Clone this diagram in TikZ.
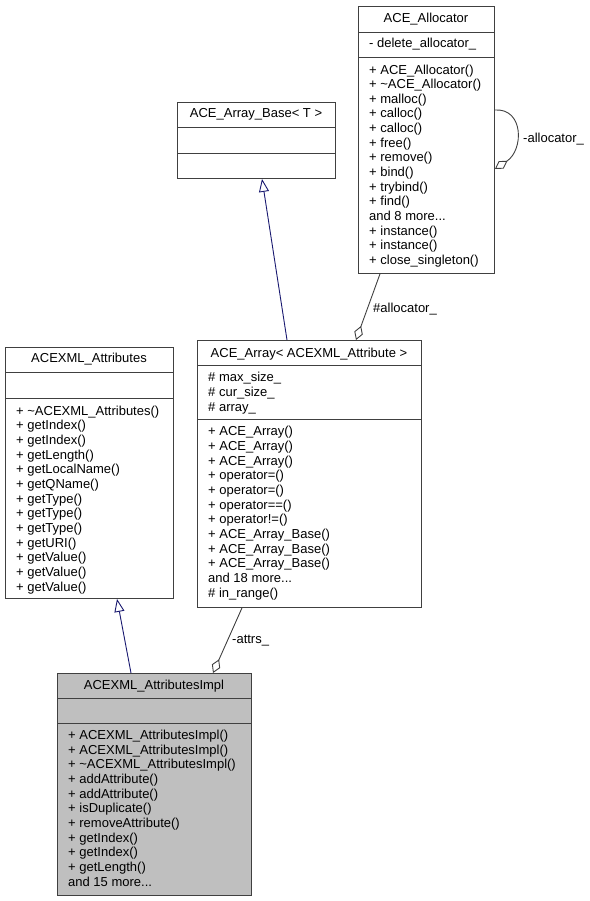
\documentclass[tikz,border=0pt]{standalone}
\usepackage{fontspec}
\setmainfont{Liberation Sans}
\usetikzlibrary{arrows.meta}
\definecolor{edgegray}{HTML}{404040}
\definecolor{isablue}{HTML}{191970}
\definecolor{implgray}{HTML}{BFBFBF}
\tikzset{
  classbox/.style={draw=edgegray, line width=0.9pt, anchor=north west, inner sep=0pt},
  divider/.style={draw=edgegray, line width=0.9pt},
  classname/.style={anchor=base, inner sep=0pt, font=\fontsize{13}{14.65}\selectfont},
  members/.style={anchor=base west, align=left, inner sep=0pt, font=\fontsize{13}{14.65}\selectfont},
  role/.style={anchor=base west, inner sep=0pt, font=\fontsize{13}{14.65}\selectfont},
  isa/.style={draw=isablue, line width=0.9pt, -{Triangle[open, length=13pt, width=10pt]}},
  has/.style={draw=edgegray, line width=0.9pt, -{Diamond[open, length=15pt, width=9pt]}}
}
\begin{document}
\begin{tikzpicture}[x=1pt, y=-1pt]
  \useasboundingbox (0,0) rectangle (589,901);

  % ACE_Allocator
  \node[classbox, minimum width=136pt, minimum height=267pt] (alloc) at (358,6) {};
  \draw[divider] (358,32) -- (494,32) (358,57) -- (494,57);
  \node[classname] (allocname) at (426,23) {ACE\_Allocator};
  \node[members] (allocattr) at (369,48) {- delete\_allocator\_};
  % members lists are placed by the baseline of their last line
  \node[members] (allocops) at (369,264.5) {+ ACE\_Allocator()\\+ \textasciitilde ACE\_Allocator()\\+ malloc()\\+ calloc()\\+ calloc()\\+ free()\\+ remove()\\+ bind()\\+ trybind()\\+ find()\\and 8 more...\\+ instance()\\+ instance()\\+ close\_singleton()};

  % ACE_Array_Base< T >
  \node[classbox, minimum width=158pt, minimum height=76pt] (base) at (177,102) {};
  \draw[divider] (177,127) -- (335,127) (177,153) -- (335,153);
  \node[classname] (basename) at (256,118) {ACE\_Array\_Base< T >};

  % ACE_Array< ACEXML_Attribute >
  \node[classbox, minimum width=224pt, minimum height=267pt] (arr) at (197,340) {};
  \draw[divider] (197,365) -- (421,365) (197,419) -- (421,419);
  \node[classname] (arrname) at (309,357) {ACE\_Array< ACEXML\_Attribute >};
  \node[members] (arrattr) at (208,411) {\# max\_size\_\\\# cur\_size\_\\\# array\_};
  \node[members] (arrops) at (208,597) {+ ACE\_Array()\\+ ACE\_Array()\\+ ACE\_Array()\\+ operator=()\\+ operator=()\\+ operator==()\\+ operator!=()\\+ ACE\_Array\_Base()\\+ ACE\_Array\_Base()\\+ ACE\_Array\_Base()\\and 18 more...\\\# in\_range()};

  % ACEXML_Attributes
  \node[classbox, minimum width=168pt, minimum height=251pt] (attrs) at (5,347) {};
  \draw[divider] (5,372) -- (173,372) (5,398) -- (173,398);
  \node[classname] (attrsname) at (89,362) {ACEXML\_Attributes};
  \node[members] (attrsops) at (16,591) {+ \textasciitilde ACEXML\_Attributes()\\+ getIndex()\\+ getIndex()\\+ getLength()\\+ getLocalName()\\+ getQName()\\+ getType()\\+ getType()\\+ getType()\\+ getURI()\\+ getValue()\\+ getValue()\\+ getValue()};

  % ACEXML_AttributesImpl
  \node[classbox, fill=implgray, minimum width=194pt, minimum height=222pt] (impl) at (57,673) {};
  \draw[divider] (57,698) -- (251,698) (57,723) -- (251,723);
  \node[classname] (implname) at (154,689) {ACEXML\_AttributesImpl};
  \node[members] (implops) at (68,886) {+ ACEXML\_AttributesImpl()\\+ ACEXML\_AttributesImpl()\\+ \textasciitilde ACEXML\_AttributesImpl()\\+ addAttribute()\\+ addAttribute()\\+ isDuplicate()\\+ removeAttribute()\\+ getIndex()\\+ getIndex()\\+ getLength()\\and 15 more...};

  % relations
  \draw[isa] ([xshift=90pt]arr.north west) -- ([xshift=85pt]base.south west);
  \draw[has] ([xshift=22pt]alloc.south west) -- ([xshift=159pt]arr.north west);
  \draw[has] ([yshift=-104pt]alloc.north east) .. controls +(29,-2) and +(29,-19) .. ([yshift=-163pt]alloc.north east);
  \draw[isa] ([xshift=74pt]impl.north west) -- ([xshift=112pt]attrs.south west);
  \draw[has] ([xshift=45pt]arr.south west) -- ([xshift=156pt]impl.north west);

  \node[role] (selflabel) at (523,143) {-allocator\_};
  \node[role] (alloclabel) at (373,312) {\#allocator\_};
  \node[role] (attrslabel) at (232,643) {-attrs\_};
\end{tikzpicture}
\end{document}
